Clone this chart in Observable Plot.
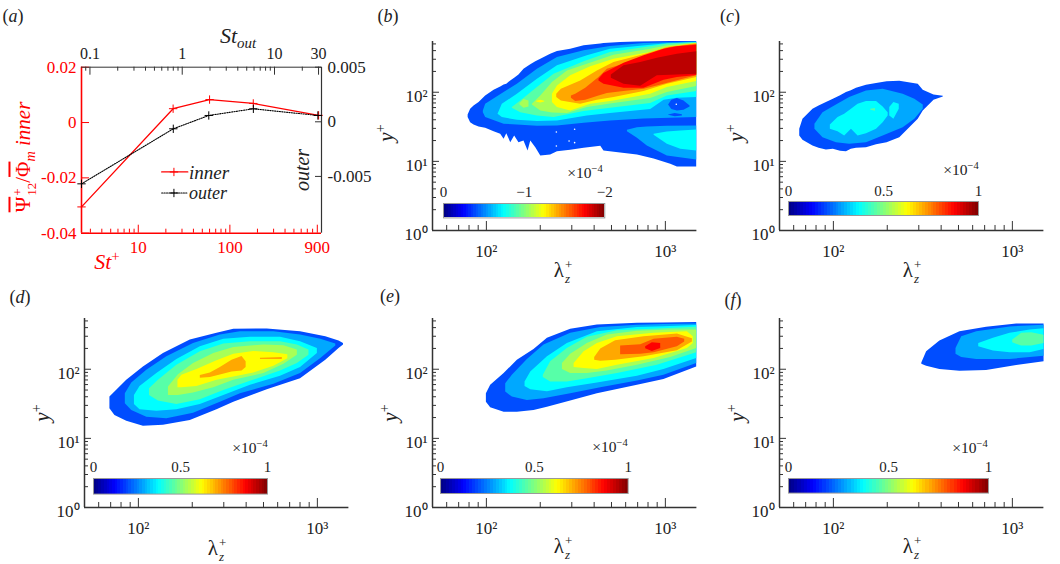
<!DOCTYPE html>
<html>
<head>
<meta charset="utf-8">
<script src="https://cdn.jsdelivr.net/npm/d3@7"></script>
<script src="https://cdn.jsdelivr.net/npm/@observablehq/plot@0.6"></script>
<style>
  body { margin: 0; background: white; }
  #fig { position: relative; width: 1060px; height: 564px; overflow: hidden; font-family: "Liberation Serif", serif; color: #222; }
  #fig svg { position: absolute; max-width: none; }
  .lab { position: absolute; white-space: nowrap; line-height: 1; z-index: 5; }
  .ss { display: inline-flex; flex-direction: column; gap: 1px; font-size: .62em; line-height: 1; vertical-align: middle; text-align: left; margin-left: 1px; }
  .ov { text-decoration: overline; }
  .lab sup { font-size: .68em; line-height: 0; }
  .lab sub { font-size: .68em; line-height: 0; }
</style>
</head>
<body>
<div id="fig"></div>
<script>
// panel (a), St+ on the bottom axis, St_out on the top axis
const stPlus = [2.4, 24, 60, 180, 930]
const stOut = [0.081, 0.8, 1.94, 5.9, 29.5]
const inner = [-0.0305, 0.005, 0.0083, 0.0069, 0.0026]
const outer = [-0.00568, -0.00064, 0.00058, 0.00119, 0.00058]
const stPlusMajor = [10, 100, 900]
const stPlusMinor = [3, 4, 5, 6, 7, 8, 9, 20, 30, 40, 50, 60, 70, 80, 90, 200, 300, 400, 500, 600, 700, 800]
const stOutLabels = [0.1, 1, 10, 30]
const stOutMinor = [0.09, 0.2, 0.3, 0.4, 0.5, 0.6, 0.7, 0.8, 0.9, 2, 3, 4, 5, 6, 7, 8, 9, 20]
const innerTicks = [-0.04, -0.02, 0, 0.02]
const outerTicks = [-0.005, 0, 0.005]

// contour bands of the other panels: each row is [log10 lambda, log10 y upper, log10 y lower]
const bL1 = [[1.898,1.672,1.633],[1.912,1.754,1.560],[1.931,1.802,1.527],[1.959,1.850,1.498],[1.996,1.947,1.478],[2.043,2.029,1.430],[2.080,2.077,1.391],[2.099,2.106,1.319],[2.114,2.116,1.401],[2.136,2.164,1.271],[2.158,2.203,1.367],[2.182,2.251,1.271],[2.210,2.333,1.295],[2.233,2.372,1.150],[2.248,2.396,1.295],[2.276,2.440,1.198],[2.304,2.478,1.077],[2.359,2.551,1.092],[2.397,2.589,1.140],[2.471,2.623,1.159],[2.546,2.671,1.188],[2.639,2.696,1.217],[2.657,2.705,1.150],[2.750,2.720,1.121],[2.844,2.725,1.092],[2.937,2.729,1.034],[3.030,2.734,0.957],[3.067,2.734,0.918],[3.175,2.734,0.918]]
const bL2 = [[1.983,1.729,1.705],[1.996,1.826,1.633],[2.099,1.995,1.536],[2.173,2.116,1.527],[2.285,2.333,1.507],[2.397,2.502,1.512],[2.546,2.599,1.551],[2.693,2.662,1.585],[2.881,2.705,1.614],[3.175,2.725,1.633]]
const bL2b = [[2.788,1.449,1.430],[2.844,1.488,1.333],[2.899,1.498,1.222],[3.011,1.507,1.077],[3.175,1.512,1.019]]
const bL3 = [[2.065,1.681,1.681],[2.089,1.826,1.633],[2.173,1.971,1.594],[2.285,2.188,1.575],[2.397,2.382,1.585],[2.564,2.527,1.657],[2.693,2.623,1.691],[2.918,2.681,1.749],[2.993,2.696,1.884],[3.067,2.705,1.913],[3.175,2.720,1.923]]
const bL3b = [[2.937,1.391,1.377],[3.011,1.425,1.246],[3.086,1.440,1.174],[3.175,1.454,1.150]]
const bL4 = [[2.145,1.778,1.768],[2.192,1.874,1.705],[2.285,2.068,1.657],[2.378,2.261,1.633],[2.546,2.440,1.720],[2.693,2.575,1.768],[2.918,2.657,1.836],[3.011,2.696,1.947],[3.175,2.715,2.010]]
const bL5 = [[2.257,1.826,1.816],[2.304,1.947,1.729],[2.369,2.140,1.701],[2.453,2.309,1.691],[2.564,2.406,1.778],[2.713,2.536,1.836],[2.918,2.623,1.908],[3.011,2.671,1.995],[3.175,2.710,2.082]]
const bL5b = [[2.188,1.836,1.816],[2.210,1.894,1.768],[2.238,1.874,1.787]]
const bL6 = [[2.369,1.971,1.850],[2.397,2.092,1.778],[2.471,2.237,1.729],[2.583,2.367,1.826],[2.713,2.478,1.874],[2.918,2.575,1.971],[3.011,2.647,2.068],[3.175,2.705,2.155]]
const bL6b = [[2.281,1.870,1.860],[2.304,1.884,1.845],[2.326,1.870,1.860]]
const bL7 = [[2.393,1.971,1.923],[2.419,2.043,1.874],[2.527,2.164,1.826],[2.620,2.309,1.884],[2.713,2.430,1.923],[2.881,2.541,2.010],[3.011,2.647,2.116],[3.175,2.700,2.213]]
const bL8 = [[2.475,1.947,1.913],[2.499,1.971,1.865],[2.555,2.058,1.884],[2.629,2.213,1.947],[2.676,2.333,1.981],[2.769,2.406,2.010],[2.881,2.502,2.043],[2.955,2.589,2.092],[3.030,2.647,2.140],[3.175,2.691,2.237]]
const bL9 = [[2.629,2.188,2.164],[2.657,2.271,2.116],[2.769,2.420,2.058],[2.881,2.527,2.058],[2.993,2.623,2.174],[3.067,2.657,2.213],[3.175,2.681,2.242]]
const bL10 = [[2.698,2.251,2.203],[2.769,2.382,2.116],[2.862,2.430,2.087],[2.955,2.493,2.237],[3.067,2.551,2.251],[3.175,2.585,2.261]]
const bIsland = [[3.018,1.816,1.816],[3.036,1.884,1.749],[3.067,1.908,1.729],[3.104,1.874,1.739],[3.138,1.802,1.787]]
const bStripe = [[3.018,1.672,1.667],[3.055,1.691,1.647],[3.095,1.676,1.657]]
const bSpecks = [[3.061,1.826],[2.391,1.425],[2.391,1.222],[2.493,1.464],[2.493,1.271],[2.462,1.295]]

const cL1 = [[1.812,1.464,1.367],[1.830,1.609,1.304],[1.886,1.754,1.222],[1.920,1.800,1.190],[1.961,1.850,1.164],[2.000,1.900,1.175],[2.040,1.950,1.145],[2.073,1.995,1.140],[2.100,2.020,1.175],[2.129,2.058,1.189],[2.185,2.100,1.198],[2.241,2.126,1.240],[2.300,2.150,1.270],[2.371,2.159,1.343],[2.474,2.116,1.609],[2.502,2.029,1.729],[2.562,1.961,1.884],[2.614,1.942,1.932]]
const cL2 = [[1.897,1.536,1.464],[1.942,1.705,1.343],[2.017,1.816,1.271],[2.091,1.923,1.246],[2.185,2.019,1.271],[2.278,2.043,1.367],[2.390,1.971,1.488],[2.455,1.899,1.609],[2.502,1.816,1.754]]
const cL3 = [[1.983,1.527,1.464],[2.026,1.633,1.430],[2.063,1.681,1.367],[2.101,1.754,1.464],[2.138,1.826,1.367],[2.185,1.865,1.401],[2.241,1.865,1.464],[2.278,1.787,1.560],[2.306,1.705,1.657]]
const cL3b = [[2.315,1.778,1.657],[2.338,1.850,1.609],[2.368,1.826,1.754]]
const cL4 = [[2.209,1.754,1.739],[2.235,1.763,1.725]]

const dL1 = [[1.841,1.597,1.427],[1.869,1.670,1.330],[1.935,1.840,1.248],[2.028,2.034,1.175],[2.140,2.228,1.189],[2.290,2.422,1.257],[2.439,2.519,1.413],[2.533,2.578,1.524],[2.720,2.583,1.704],[2.906,2.544,1.864],[3.047,2.471,2.131],[3.121,2.408,2.301],[3.146,2.374,2.350]]
const dL2 = [[1.927,1.646,1.500],[1.963,1.801,1.403],[2.047,1.985,1.306],[2.159,2.180,1.282],[2.308,2.374,1.364],[2.458,2.495,1.524],[2.570,2.544,1.646],[2.757,2.544,1.782],[2.906,2.495,1.937],[3.019,2.432,2.155],[3.103,2.364,2.335]]
const dL3 = [[1.978,1.621,1.490],[2.009,1.752,1.413],[2.103,1.937,1.393],[2.215,2.141,1.413],[2.346,2.325,1.490],[2.477,2.432,1.621],[2.626,2.461,1.767],[2.794,2.461,1.898],[2.906,2.398,2.024],[3.000,2.301,2.228]]
const dL4 = [[2.062,1.718,1.621],[2.112,1.840,1.539],[2.215,2.058,1.490],[2.346,2.252,1.558],[2.477,2.364,1.694],[2.626,2.398,1.825],[2.794,2.398,1.976],[2.888,2.350,2.083],[2.953,2.277,2.204]]
const dL5 = [[2.168,1.743,1.621],[2.224,1.922,1.621],[2.308,2.083,1.655],[2.421,2.228,1.733],[2.533,2.316,1.840],[2.701,2.350,1.937],[2.813,2.340,2.073],[2.888,2.277,2.204]]
const dL6 = [[2.221,1.840,1.733],[2.243,1.913,1.733],[2.327,1.995,1.752],[2.439,2.121,1.840],[2.533,2.218,1.888],[2.645,2.257,1.947],[2.757,2.238,2.044],[2.835,2.209,2.150]]
const dL7 = [[2.346,1.908,1.869],[2.402,1.947,1.879],[2.458,2.024,1.917],[2.523,2.131,1.961],[2.579,2.184,1.976],[2.602,2.107,2.024]]
const dL7b = [[2.682,2.160,2.141],[2.804,2.170,2.141]]

const eL1 = [[2.000,1.646,1.524],[2.024,1.767,1.442],[2.099,1.937,1.379],[2.173,2.131,1.379],[2.266,2.286,1.403],[2.341,2.447,1.451],[2.471,2.578,1.539],[2.620,2.641,1.646],[2.844,2.665,1.767],[2.992,2.670,1.850],[3.175,2.675,2.034]]
const eL2 = [[2.108,1.791,1.670],[2.145,1.913,1.597],[2.229,2.141,1.549],[2.322,2.350,1.573],[2.471,2.519,1.646],[2.639,2.602,1.733],[2.844,2.636,1.830],[2.992,2.646,1.913],[3.175,2.655,2.083]]
const eL3 = [[2.216,1.816,1.752],[2.248,1.961,1.704],[2.341,2.180,1.675],[2.452,2.374,1.733],[2.620,2.544,1.801],[2.844,2.602,1.898],[2.992,2.616,1.995],[3.175,2.631,2.155]]
const eL4 = [[2.318,1.913,1.879],[2.359,2.107,1.816],[2.452,2.301,1.816],[2.564,2.461,1.864],[2.732,2.558,1.937],[2.955,2.582,2.058],[3.175,2.607,2.238]]
const eL5 = [[2.425,2.083,1.995],[2.471,2.218,1.937],[2.564,2.374,1.937],[2.676,2.495,1.976],[2.844,2.549,2.058],[3.030,2.568,2.170],[3.175,2.568,2.301]]
const eL6 = [[2.490,2.083,2.024],[2.546,2.252,2.010],[2.620,2.374,1.995],[2.732,2.471,2.058],[2.937,2.519,2.155],[3.123,2.544,2.301],[3.156,2.471,2.374]]
const eL7 = [[2.605,2.170,2.131],[2.639,2.291,2.116],[2.722,2.413,2.131],[2.881,2.471,2.180],[3.067,2.510,2.267],[3.151,2.442,2.393]]
const eL8 = [[2.750,2.335,2.209],[2.862,2.354,2.218],[2.937,2.432,2.238],[3.067,2.461,2.325],[3.108,2.432,2.393]]
const eL9 = [[2.890,2.325,2.296],[2.927,2.383,2.257],[2.974,2.374,2.301]]

const fL1 = [[2.494,2.092,2.073],[2.521,2.252,2.044],[2.595,2.408,1.995],[2.707,2.544,1.971],[2.856,2.607,1.981],[3.024,2.655,2.053],[3.177,2.655,2.107]]
const fL2 = [[2.685,2.301,2.218],[2.717,2.471,2.170],[2.801,2.544,2.141],[2.987,2.612,2.141],[3.177,2.636,2.189]]
const fL3 = [[2.812,2.374,2.325],[2.894,2.447,2.262],[2.987,2.519,2.238],[3.099,2.568,2.238],[3.177,2.587,2.286]]
const fL4 = [[3.002,2.422,2.383],[3.052,2.519,2.335],[3.108,2.529,2.335],[3.177,2.490,2.374]]

// colour levels used by the filled contours, on the 0-1 jet range
const lev = [0.2, 0.29, 0.375, 0.46, 0.54, 0.625, 0.71, 0.79, 0.875, 0.94]
const bandsB = [[lev[0],bL1],[lev[1],bL2],[lev[1],bL2b],[lev[2],bL3],[lev[2],bL3b],[lev[0],bIsland],[lev[0],bStripe],[lev[3],bL4],[lev[4],bL5],[lev[4],bL5b],[lev[5],bL6b],[lev[5],bL6],[lev[6],bL7],[lev[7],bL8],[lev[8],bL9],[lev[9],bL10]]
const bandsC = [[lev[0],cL1],[lev[1],cL2],[lev[2],cL3],[lev[2],cL3b],[lev[3],cL4]]
const bandsD = [[lev[0],dL1],[lev[1],dL2],[lev[2],dL3],[lev[3],dL4],[lev[4],dL5],[lev[5],dL6],[lev[6],dL7],[lev[6],dL7b]]
const bandsE = [[lev[0],eL1],[lev[1],eL2],[lev[2],eL3],[lev[3],eL4],[lev[4],eL5],[lev[5],eL6],[lev[6],eL7],[lev[7],eL8],[lev[8],eL9]]
const bandsF = [[lev[0],fL1],[lev[1],fL2],[lev[2],fL3],[lev[3],fL4]]

const lamDomain = [50, 1500]
const yDomain = [1, 542]
const lamMajor = [100, 1000]
const lamMinor = [60, 70, 80, 90, 200, 300, 400, 500, 600, 700, 800, 900]
const yMajor = [1, 10, 100]
const yMinor = [2, 3, 4, 5, 6, 7, 8, 9, 20, 30, 40, 50, 60, 70, 80, 90, 200, 300, 400, 500]
const jetStops = [0, 0.125, 0.375, 0.625, 0.875, 1]
const jetColors = ["#00007f", "#0000ff", "#00ffff", "#ffff00", "#ff0000", "#7f0000"]

const fig = document.getElementById('fig')
const red = '#ff0000'
const ink = '#333'
const sup = {0: '⁰', 1: '¹', 2: '²', 3: '³'}
const pow10 = d => '10' + sup[Math.round(Math.log10(d))]
const base = {fontFamily: '"Liberation Serif", serif', fontSize: '17px', background: 'transparent', overflow: 'visible'}

function place(svg, left, top) {
  svg.style.left = left + 'px'
  svg.style.top = top + 'px'
  fig.append(svg)
}

function contourPanel(bands, left, top, specks = []) {
  const W = 264.4, H = 189, m = 60
  const rows = bands.flatMap(([v, pts], k) => pts.map(p => ({lam: 10 ** p[0], hi: 10 ** p[1], lo: 10 ** p[2], v, k})))
  const chart = Plot.plot({
    width: W + 2 * m, height: H + 2 * m,
    marginLeft: m, marginRight: m, marginTop: m, marginBottom: m,
    style: base,
    x: {type: 'log', domain: lamDomain},
    y: {type: 'log', domain: yDomain},
    color: {type: 'linear', domain: jetStops, range: jetColors},
    marks: [
      Plot.areaY(rows, {x: 'lam', y1: 'lo', y2: 'hi', z: 'k', fill: 'v'}),
      Plot.dot(specks, {x: d => 10 ** d[0], y: d => 10 ** d[1], r: 0.8, fill: 'white'}),
      Plot.ruleX(lamMinor, {stroke: ink, insetTop: H - 5}),
      Plot.ruleX(lamMajor, {stroke: ink, insetTop: H - 9}),
      Plot.ruleY(yMinor, {stroke: ink, insetRight: W - 4}),
      Plot.ruleY(yMajor, {stroke: ink, insetRight: W - 7}),
      Plot.ruleX([lamDomain[0]], {stroke: ink, strokeWidth: 1.5}),
      Plot.ruleY([yDomain[0]], {stroke: ink, strokeWidth: 1.5}),
      Plot.axisX(lamMajor, {tickSize: 0, tickPadding: 14, tickFormat: pow10, label: null, fontSize: 17, fill: '#222'}),
      Plot.axisY(yMajor, {tickSize: 0, tickPadding: 5, tickFormat: pow10, label: null, fontSize: 17, dy: 4, fill: '#222'}),
    ],
  })
  place(chart, left - m, top - m)
}

function colorBar(x0, x1, y0, y1, end, ticks, fmt) {
  const m = 20, mt = 24
  const n = 64
  const steps = d3.range(n).map(i => ({a: i / n * end, b: (i + 1) / n * end, v: (i + 0.5) / n}))
  const chart = Plot.plot({
    width: x1 - x0 + 2 * m, height: y1 - y0 + mt + 1,
    marginLeft: m, marginRight: m, marginTop: mt, marginBottom: 1,
    style: base,
    x: {domain: [0, end]},
    color: {type: 'linear', domain: jetStops, range: jetColors},
    marks: [
      Plot.rect(steps, {x1: 'a', x2: 'b', fill: 'v', shapeRendering: 'crispEdges'}),
      Plot.frame({stroke: '#999', strokeWidth: 1}),
      Plot.axisX(ticks, {anchor: 'top', tickSize: 0, tickPadding: 6, tickFormat: fmt, label: null, fontSize: 15, fill: '#222'}),
    ],
  })
  chart.style.zIndex = 2
  place(chart, x0 - m, y0 - mt)
}

// panel (a): two overlaid charts so each pair of axes has its own scales
function panelA() {
  const w = 370, h = 280, ml = 81, mr = 49, mt = 66.7, mb = 47.3
  const iw = w - ml - mr, ih = h - mt - mb
  const size = {width: w, height: h, marginLeft: ml, marginRight: mr, marginTop: mt, marginBottom: mb, style: base}
  const innerRows = stPlus.map((x, i) => ({x, y: inner[i]}))
  const outerRows = stOut.map((x, i) => ({x, y: outer[i]}))
  const legendX = [18, 34.7]
  const legendMark = [24.5]
  const legendRed = -0.01787
  const legendBlack = -0.02546
  const dots = {symbol: 'plus', r: 2.8, strokeWidth: 1}
  const dotted = {stroke: 'black', strokeWidth: 1.1, strokeDasharray: '1.2,1.2'}
  place(Plot.plot({
    ...size,
    x: {type: 'log', domain: [2.4, 1000], axis: null},
    y: {domain: [-0.04, 0.02]},
    marks: [
      Plot.ruleX(stPlusMinor, {stroke: red, insetTop: ih - 4}),
      Plot.ruleX(stPlusMajor, {stroke: red, insetTop: ih - 8}),
      Plot.ruleY(innerTicks, {stroke: red, insetRight: iw - 8}),
      Plot.ruleX([2.4], {stroke: red, strokeWidth: 1.6}),
      Plot.ruleY([-0.04], {stroke: red, strokeWidth: 1.6}),
      Plot.line(innerRows, {x: 'x', y: 'y', stroke: red, strokeWidth: 1.3}),
      Plot.dot(innerRows, {x: 'x', y: 'y', stroke: red, ...dots}),
      Plot.line(legendX, {x: d => d, y: () => legendRed, stroke: red, strokeWidth: 1.3}),
      Plot.dot(legendMark, {x: d => d, y: () => legendRed, stroke: red, ...dots}),
      Plot.line(legendX, {x: d => d, y: () => legendBlack, ...dotted}),
      Plot.dot(legendMark, {x: d => d, y: () => legendBlack, stroke: 'black', ...dots}),
      Plot.text(stPlusMajor, {x: d => d, frameAnchor: 'bottom', lineAnchor: 'top', dy: 8, text: d => String(d), fontSize: 17, fill: red}),
      Plot.axisY(innerTicks, {tickSize: 0, tickPadding: 5, tickFormat: d => String(d), label: null, fontSize: 17, fill: red}),
    ],
  }), 0, 0)
  place(Plot.plot({
    ...size,
    x: {type: 'log', domain: [0.081, 32.3], axis: null},
    y: {domain: [-0.0102, 0.005]},
    marks: [
      Plot.ruleX(stOutMinor, {stroke: ink, insetBottom: ih - 4}),
      Plot.ruleX(stOutLabels, {stroke: ink, insetBottom: ih - 8}),
      Plot.ruleY(outerTicks, {stroke: ink, insetLeft: iw - 6}),
      Plot.ruleX([32.3], {stroke: ink, strokeWidth: 1.2}),
      Plot.ruleY([0.005], {stroke: ink, strokeWidth: 1}),
      Plot.line(outerRows, {x: 'x', y: 'y', ...dotted}),
      Plot.dot(outerRows, {x: 'x', y: 'y', stroke: 'black', ...dots}),
      Plot.text(stOutLabels, {x: d => d, frameAnchor: 'top', lineAnchor: 'bottom', dy: -8, text: d => String(d), fontSize: 16, fill: '#222'}),
      Plot.axisY(outerTicks, {anchor: 'right', tickSize: 0, tickPadding: 6, tickFormat: d => String(d), label: null, fontSize: 17, fill: '#222'}),
    ],
  }), 0, 0)
}

panelA()
contourPanel(bandsB, 431.7, 40.5, bSpecks)
contourPanel(bandsC, 779.3, 40.5)
contourPanel(bandsD, 84, 318.3)
contourPanel(bandsE, 431.7, 318.3)
contourPanel(bandsF, 779.3, 318.3)

const half = [0, 0.5, 1]
const halfFmt = d => String(d)
colorBar(442.7, 604, 203.3, 217.7, -2, [0, -1, -2], d => d === 0 ? '0' : '−' + Math.abs(d))
colorBar(788.3, 978.3, 201, 215, 1, half, halfFmt)
colorBar(92.7, 266.7, 477.7, 493.3, 1, half, halfFmt)
colorBar(440, 627.7, 477.7, 492.7, 1, half, halfFmt)
colorBar(788.3, 988.3, 477.7, 492.3, 1, half, halfFmt)

// text that needs sub and superscripts is set as html
const lambdaZ = 'λ<span class="ss"><span>+</span><i>z</i></span>'
const yPlus = '<i>y</i><sup>+</sup>'
const times = '×10<sup>−4</sup>'
const labels = [
  ['(<i>a</i>)', 13, 16, 18], ['(<i>b</i>)', 388, 16, 18], ['(<i>c</i>)', 730, 16, 18],
  ['(<i>d</i>)', 20, 297, 18], ['(<i>e</i>)', 390, 296, 18], ['(<i>f</i>)', 733, 300, 18],
  ['<i>St<sub>out</sub></i>', 238, 36, 22],
  ['<i>St</i><sup>+</sup>', 107, 262, 22, red],
  ['<span class="ov">Ψ</span><span class="ss"><span>+</span><span>12</span></span>/<span class="ov">Φ</span><sub><i>m</i></sub> <i>inner</i>', 25, 157, 21, red, -90],
  ['<i>outer</i>', 302, 170, 20, '#222', -90],
  ['<i>inner</i>', 209, 172, 19],
  ['<i>outer</i>', 208, 193, 18],
  [yPlus, 386, 133, 21, '#222', -90], [yPlus, 736, 133, 21, '#222', -90],
  [yPlus, 42, 413, 21, '#222', -90], [yPlus, 390, 413, 21, '#222', -90], [yPlus, 737, 413, 21, '#222', -90],
  [lambdaZ, 563, 272, 21], [lambdaZ, 912, 272, 21],
  [lambdaZ, 217, 550, 21], [lambdaZ, 563, 548, 21], [lambdaZ, 912, 548, 21],
  [times, 585, 173, 15.5], [times, 961, 170, 15.5], [times, 250, 448, 15.5], [times, 610, 447, 15.5], [times, 970, 448, 15.5],
]
labels.forEach(([html, x, y, size, color, rot]) => {
  const el = document.createElement('div')
  el.className = 'lab'
  el.innerHTML = html
  el.style.left = x + 'px'
  el.style.top = y + 'px'
  el.style.fontSize = size + 'px'
  if (color) el.style.color = color
  el.style.transform = `translate(-50%,-50%) rotate(${rot || 0}deg)`
  fig.append(el)
})
</script>
</body>
</html>
